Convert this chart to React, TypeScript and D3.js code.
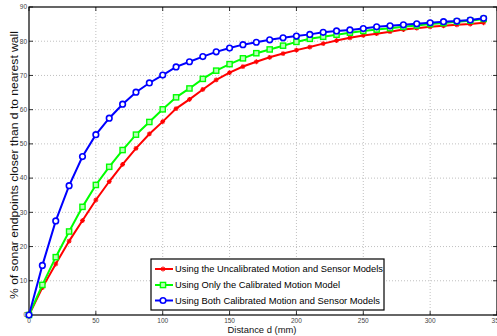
import React from 'react';
import * as d3 from 'd3';

const distances = d3.range(0, 341, 10);

const uncalibrated = [
  0, 8.0, 14.9, 21.6, 27.6, 33.6, 39.0, 44.0, 48.7, 52.9, 56.5, 60.3, 63.0, 65.9, 68.7,
  70.8, 72.6, 74.0, 75.3, 76.4, 77.4, 78.3, 79.3, 80.2, 81.0, 81.7, 82.2, 82.8, 83.4,
  83.8, 84.2, 84.5, 84.8, 85.0, 85.4,
];
const motionOnly = [
  0, 8.8, 16.9, 24.4, 31.6, 38.0, 43.3, 48.2, 52.7, 56.4, 60.1, 63.6, 66.2, 69.0, 71.4,
  73.3, 75.0, 76.5, 77.6, 78.7, 79.8, 80.7, 81.3, 81.9, 82.5, 83.0, 83.4, 83.8, 84.2,
  84.6, 85.0, 85.3, 85.7, 86.0, 86.5,
];
const bothCalibrated = [
  0, 14.5, 27.5, 37.8, 46.3, 52.7, 57.5, 61.6, 65.1, 67.8, 70.1, 72.5, 74.0, 75.5, 76.9,
  78.0, 79.0, 79.7, 80.4, 81.0, 81.5, 82.0, 82.6, 83.0, 83.3, 83.7, 84.2, 84.5, 84.8,
  85.1, 85.4, 85.7, 85.9, 86.2, 86.7,
];

const seriesNames = [
  'Using the Uncalibrated Motion and Sensor Models',
  'Using Only the Calibrated Motion Model',
  'Using Both Calibrated Motion and Sensor Models',
];
const seriesColors = ['#ff0000', '#00ff00', '#0000ff'];
const seriesMarkers = ['star', 'square', 'circle'];
const seriesValues = [uncalibrated, motionOnly, bothCalibrated];
// measured widths of the legend labels in the reference
const legendTextWidths = [208, 165, 205];

const xTicks = [0, 50, 100, 150, 200, 250, 300, 350];
const yTicks = [0, 10, 20, 30, 40, 50, 60, 70, 80, 90];

const W = 497;
const H = 336;
const left = 29;
const top = 7;
const right = 497;
const bottom = 315;

const font = '"Liberation Sans", Arial, sans-serif';

function Marker({ kind, color, x, y }: { kind: string; color: string; x: number; y: number }) {
  if (kind === 'circle') {
    return <circle cx={x} cy={y} r={2.8} fill="white" stroke={color} strokeWidth={1.6} />;
  }
  if (kind === 'square') {
    return <rect x={x - 2.6} y={y - 2.6} width={5.2} height={5.2} fill="#b8ffb8" stroke={color} strokeWidth={1.4} />;
  }
  const s = 2.4;
  return (
    <g stroke={color} strokeWidth={1.2}>
      <line x1={x - s} y1={y} x2={x + s} y2={y} />
      <line x1={x} y1={y - s} x2={x} y2={y + s} />
      <line x1={x - s * 0.7} y1={y - s * 0.7} x2={x + s * 0.7} y2={y + s * 0.7} />
      <line x1={x - s * 0.7} y1={y + s * 0.7} x2={x + s * 0.7} y2={y - s * 0.7} />
    </g>
  );
}

export default function App() {
  const x = d3.scaleLinear().domain([0, 350]).range([left, right]);
  const y = d3.scaleLinear().domain([0, 90]).range([bottom, top]);
  const line = d3
    .line<number>()
    .x((_, i) => x(distances[i]))
    .y((v) => y(v));

  const legX = 151;
  const legY = 259;
  const legW = 233;
  const legH = 51;
  const rows = [269, 285, 300.5];

  return (
    <svg width={W} height={H} style={{ position: 'absolute', left: 0, top: 0, background: 'white' }} fontFamily={font}>
      {/* grid */}
      <g stroke="#b0b0b0" strokeWidth={0.8} strokeDasharray="1,2">
        {xTicks.slice(1, -1).map((t) => (
          <line key={'gx' + t} x1={x(t)} x2={x(t)} y1={top} y2={bottom} />
        ))}
        {yTicks.slice(1, -1).map((t) => (
          <line key={'gy' + t} x1={left} x2={right} y1={y(t)} y2={y(t)} />
        ))}
      </g>
      {/* ticks */}
      <g stroke="#000" strokeWidth={0.8}>
        {xTicks.map((t) => (
          <g key={'tx' + t}>
            <line x1={x(t)} x2={x(t)} y1={bottom} y2={bottom - 4} />
            <line x1={x(t)} x2={x(t)} y1={top} y2={top + 4} />
          </g>
        ))}
        {yTicks.map((t) => (
          <g key={'ty' + t}>
            <line x1={left} x2={left + 4} y1={y(t)} y2={y(t)} />
            <line x1={right} x2={right - 4} y1={y(t)} y2={y(t)} />
          </g>
        ))}
      </g>
      <rect x={left} y={top} width={right - left} height={bottom - top} fill="none" stroke="#000" strokeWidth={1.2} />
      {/* tick labels */}
      <g fontSize={6.5} fill="#444">
        {xTicks.map((t) => (
          <text key={'lx' + t} x={x(t)} y={bottom + 8} textAnchor="middle">
            {t}
          </text>
        ))}
        {yTicks.map((t) => (
          <text key={'ly' + t} x={left - 2} y={y(t) + 2.3} textAnchor="end">
            {t}
          </text>
        ))}
      </g>
      <text x={262} y={333} fontSize={9.5} textAnchor="middle" fill="#111" textLength={69} lengthAdjust="spacingAndGlyphs">
        Distance d (mm)
      </text>
      <text
        transform={`translate(18,165) rotate(-90)`}
        fontSize={11}
        textAnchor="middle"
        fill="#111"
        textLength={268}
        lengthAdjust="spacingAndGlyphs"
      >
        % of sonar endpoints closer than d to nearest wall
      </text>
      {/* series */}
      {seriesValues.map((vals, si) => (
        <g key={'s' + si}>
          <path d={line(vals) || ''} fill="none" stroke={seriesColors[si]} strokeWidth={2} />
          {vals.map((v, i) => (
            <Marker key={i} kind={seriesMarkers[si]} color={seriesColors[si]} x={x(distances[i])} y={y(v)} />
          ))}
        </g>
      ))}
      {/* legend */}
      <rect x={legX} y={legY} width={legW} height={legH} fill="white" stroke="#000" strokeWidth={1.2} />
      {seriesNames.map((name, i) => (
        <g key={'leg' + i}>
          <line x1={legX + 4} x2={legX + 22} y1={rows[i]} y2={rows[i]} stroke={seriesColors[i]} strokeWidth={2} />
          <Marker kind={seriesMarkers[i]} color={seriesColors[i]} x={legX + 12} y={rows[i]} />
          <text
            x={legX + 24}
            y={rows[i] + 3.3}
            fontSize={9.4}
            fill="#000"
            textLength={legendTextWidths[i]}
            lengthAdjust="spacingAndGlyphs"
          >
            {name}
          </text>
        </g>
      ))}
    </svg>
  );
}
